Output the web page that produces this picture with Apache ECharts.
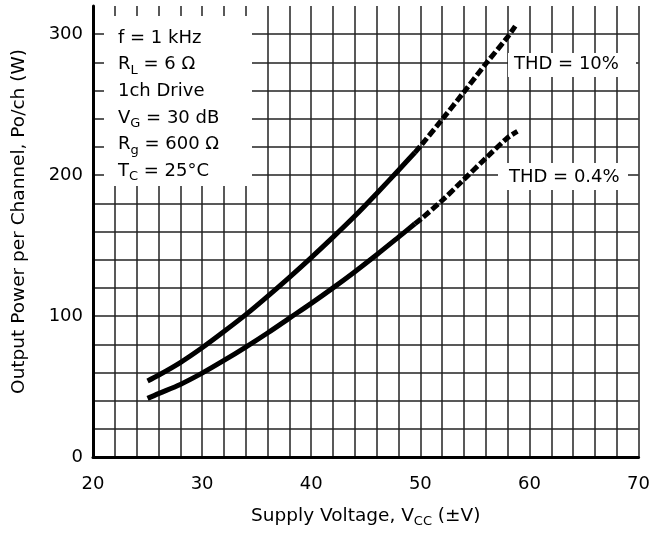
<!DOCTYPE html>
<html>
<head>
<meta charset="utf-8">
<script src="https://cdn.jsdelivr.net/npm/echarts@6/dist/echarts.min.js"></script>
<style>
  html, body { margin: 0; padding: 0; background: #fff; }
  #chart { width: 653px; height: 538px; }
</style>
</head>
<body>
<div id="chart"></div>
<script>
// supply voltage (V) and output power (W)
const voltageSolid = [25, 26, 28, 30, 32, 34, 36, 38, 40, 42, 44, 46, 48, 49.5];
const power10Solid = [54, 58, 67, 77.5, 89, 101, 114, 127.5, 141.5, 156, 171, 187, 203.5, 216];
const power04Solid = [41.6, 45, 51.5, 59.5, 68.5, 78, 88, 98.5, 109, 120, 131.5, 143.5, 156, 165.5];

// dashed parts (beyond the rated range)
const voltage10Dash = [49.5, 50, 52, 54, 56, 58, 58.7];
const power10Dash = [216, 220.5, 239.5, 259, 279, 298, 305.7];
const voltage04Dash = [49.5, 50, 52, 54, 56, 58, 58.9];
const power04Dash = [165.5, 168.5, 182, 197, 212, 226.5, 231];

const xLabels = [20, 30, 40, 50, 60, 70];
const yLabels = [0, 100, 200, 300];

const conditions = [
  'f = 1 kHz',
  'R{sub|L} = 6 Ω',
  '1ch Drive',
  'V{sub|G} = 30 dB',
  'R{sub|g} = 600 Ω',
  'T{sub|C} = 25°C'
];

const FONT = 'DejaVu Sans';
const pairs = (xs, ys) => xs.map((x, i) => [x, ys[i]]);

const subRich = {
  sub: { fontSize: 13, lineHeight: 12, verticalAlign: 'bottom', fontFamily: FONT, color: '#000' }
};

function lineSeries(data, dashed) {
  return {
    type: 'line',
    data: data,
    smooth: 0.3,
    symbol: 'none',
    silent: true,
    lineStyle: {
      color: '#000',
      width: 5,
      type: dashed ? [8, 3] : 'solid',
      cap: 'butt'
    }
  };
}

var chart = echarts.init(document.getElementById('chart'));

// annotation texts sit on top of white boxes
const notes = conditions.map((t, i) => ({
  type: 'text',
  z: 20,
  x: 118,
  y: 38 + i * 26.7,
  style: {
    text: t,
    fontFamily: FONT,
    fontSize: 18,
    lineHeight: 24,
    fill: '#000',
    verticalAlign: 'middle',
    rich: subRich
  }
}));
notes.push(
  { type: 'text', z: 20, x: 514, y: 64, style: { text: 'THD = 10%', fontFamily: FONT, fontSize: 18, fill: '#000', verticalAlign: 'middle' } },
  { type: 'text', z: 20, x: 509, y: 177, style: { text: 'THD = 0.4%', fontFamily: FONT, fontSize: 18, fill: '#000', verticalAlign: 'middle' } }
);

chart.setOption({
  animation: false,
  grid: { left: 93, right: 13, top: 6, bottom: 81, containLabel: false },
  xAxis: {
    type: 'value',
    min: 20,
    max: 70,
    interval: 2,
    name: 'Supply Voltage, V{sub|CC} (±V)',
    nameLocation: 'middle',
    nameGap: 47,
    nameTextStyle: {
      fontFamily: FONT, fontSize: 18.5, color: '#000', lineHeight: 24,
      rich: subRich
    },
    axisLine: { lineStyle: { color: '#000', width: 3 } },
    axisTick: { show: false },
    axisLabel: {
      margin: 18,
      fontFamily: FONT,
      fontSize: 18,
      color: '#000',
      formatter: v => xLabels.includes(v) ? String(v) : ''
    },
    splitLine: { show: true, lineStyle: { color: '#222', width: 1.5 } }
  },
  yAxis: {
    type: 'value',
    min: 0,
    max: 320,
    interval: 20,
    name: 'Output Power per Channel, Po/ch (W)',
    nameLocation: 'middle',
    nameGap: 64,
    nameTextStyle: { fontFamily: FONT, fontSize: 18.5, color: '#000', padding: [0, 0, 0, 20] },
    axisLine: { show: true, lineStyle: { color: '#000', width: 3 } },
    axisTick: { show: false },
    axisLabel: {
      margin: 10,
      fontFamily: FONT,
      fontSize: 18,
      color: '#000',
      formatter: v => yLabels.includes(v) ? String(v) : ''
    },
    splitLine: { show: true, showMaxLine: false, lineStyle: { color: '#222', width: 1.5 } }
  },
  series: [
    lineSeries(pairs(voltageSolid, power10Solid), false),
    lineSeries(pairs(voltage10Dash, power10Dash), true),
    lineSeries(pairs(voltageSolid, power04Solid), false),
    lineSeries(pairs(voltage04Dash, power04Dash), true)
  ],
  graphic: [
    { type: 'rect', z: 10, shape: { x: 104, y: 16, width: 148, height: 170 }, style: { fill: '#fff' } },
    { type: 'rect', z: 10, shape: { x: 508, y: 53, width: 128, height: 24 }, style: { fill: '#fff' } },
    { type: 'rect', z: 10, shape: { x: 498, y: 163, width: 130, height: 27 }, style: { fill: '#fff' } }
  ].concat(notes)
});
</script>
</body>
</html>
